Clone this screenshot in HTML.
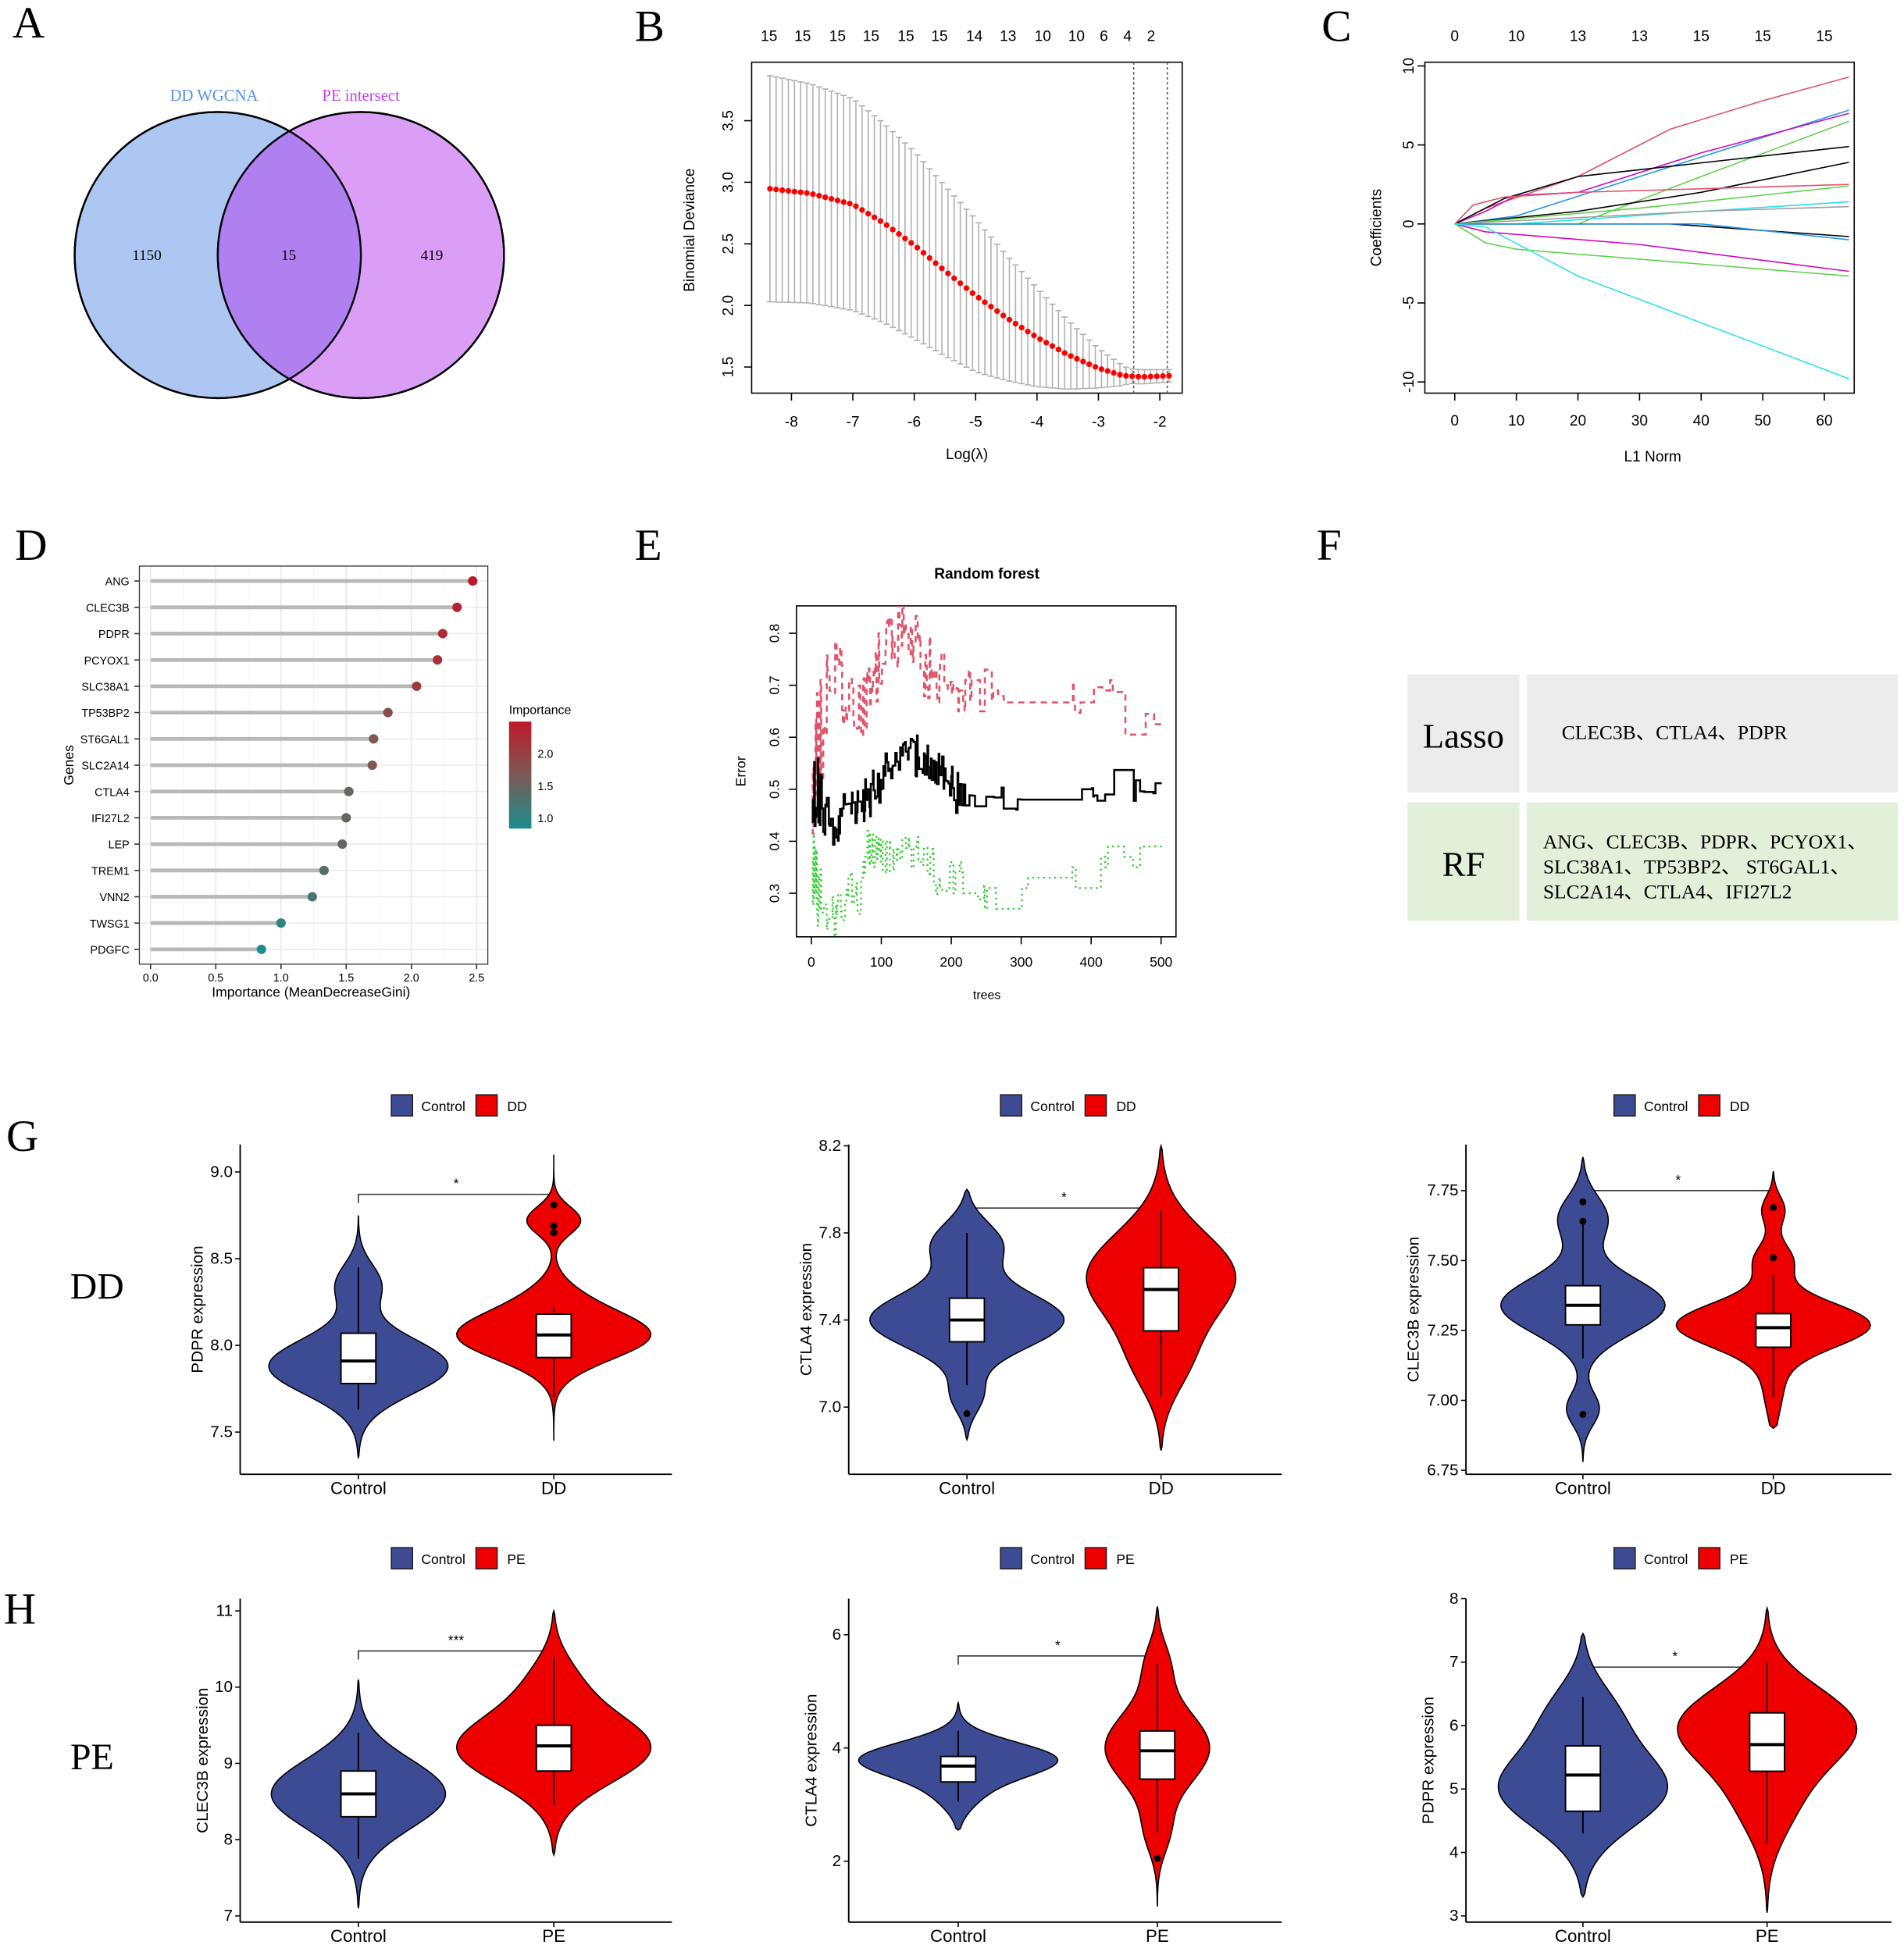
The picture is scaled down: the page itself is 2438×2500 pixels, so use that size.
<!DOCTYPE html>
<html><head><meta charset="utf-8"><style>
html,body{margin:0;padding:0;background:#fff;}
svg{display:block;}
text{font-family:"Liberation Sans",sans-serif;}
.serif{font-family:"Liberation Serif",serif;}
</style></head><body>
<svg id="s" xmlns="http://www.w3.org/2000/svg" width="2438" height="2500" viewBox="0 0 1530 1569" preserveAspectRatio="none">
<rect width="1530" height="1569" fill="#fff"/>
<defs>
<clipPath id="cl"><circle cx="175" cy="205" r="115"/></clipPath>
<clipPath id="cpE"><rect x="640" y="487" width="305" height="266"/></clipPath>
<linearGradient id="gr" x1="0" y1="0" x2="0" y2="1"><stop offset="0" stop-color="#c0182b"/><stop offset="0.5" stop-color="#7a5a55"/><stop offset="1" stop-color="#1a8e8e"/></linearGradient>
</defs>
<g class="serif" font-size="36">
<text x="10" y="30" class="serif">A</text><text x="510" y="33" class="serif">B</text><text x="1062" y="33" class="serif">C</text>
<text x="12" y="450" class="serif">D</text><text x="510" y="450" class="serif">E</text><text x="1058" y="450" class="serif">F</text>
<text x="5" y="925" class="serif">G</text><text x="3" y="1305" class="serif">H</text>
</g>
<circle cx="175" cy="205" r="115" fill="#aec7f2" stroke="#000" stroke-width="1.5"/>
<circle cx="290" cy="205" r="115" fill="#da9ef6" stroke="#000" stroke-width="1.5"/>
<circle cx="290" cy="205" r="115" fill="#b07ff0" clip-path="url(#cl)"/>
<circle cx="175" cy="205" r="115" fill="none" stroke="#000" stroke-width="1.5"/>
<circle cx="290" cy="205" r="115" fill="none" stroke="#000" stroke-width="1.5"/>
<text x="172" y="81" class="serif" font-size="13" fill="#5b8ff0" text-anchor="middle">DD WGCNA</text>
<text x="290" y="81" class="serif" font-size="13" fill="#c040f0" text-anchor="middle">PE intersect</text>
<g class="serif" font-size="12" text-anchor="middle"><text x="118" y="209" class="serif">1150</text><text x="232" y="209" class="serif">15</text><text x="347" y="209" class="serif">419</text></g>
<g id="dyn"></g>
<rect x="1131" y="542" width="90" height="95" fill="#ececec"/><rect x="1227" y="542" width="298" height="95" fill="#ececec"/>
<rect x="1131" y="645" width="90" height="95" fill="#e2efd9"/><rect x="1227" y="645" width="298" height="95" fill="#e2efd9"/>
<text x="1176" y="601" class="serif" font-size="28" text-anchor="middle">Lasso</text>
<text x="1176" y="704" class="serif" font-size="28" text-anchor="middle">RF</text>
<text x="1255" y="594" class="serif" font-size="16">CLEC3B、CTLA4、PDPR</text>
<text x="1240" y="682" class="serif" font-size="16">ANG、CLEC3B、PDPR、PCYOX1、</text>
<text x="1240" y="702" class="serif" font-size="16">SLC38A1、TP53BP2、 ST6GAL1、</text>
<text x="1240" y="722" class="serif" font-size="16">SLC2A14、CTLA4、IFI27L2</text>
<text x="78" y="1044" class="serif" font-size="30" text-anchor="middle">DD</text>
<text x="74" y="1422" class="serif" font-size="30" text-anchor="middle">PE</text>
</svg>
<script>
var g=document.getElementById('dyn'),h='';
function T(x,y,t,o){o=o||{};h+='<text x="'+x+'" y="'+y+'" font-size="'+(o.s||12)+'"'+(o.a?' text-anchor="'+o.a+'"':'')+(o.r?' transform="rotate(-90 '+x+' '+y+')"':'')+(o.w?' font-weight="bold"':'')+(o.f?' fill="'+o.f+'"':'')+'>'+t+'</text>';}
function L(x1,y1,x2,y2,c,w,d){h+='<line x1="'+x1+'" y1="'+y1+'" x2="'+x2+'" y2="'+y2+'" stroke="'+(c||'#000')+'" stroke-width="'+(w||1)+'"'+(d?' stroke-dasharray="'+d+'"':'')+'/>';}
function P(d,c,w,f,ex){h+='<path d="'+d+'" stroke="'+(c||'none')+'" stroke-width="'+(w||1)+'" fill="'+(f||'none')+'" '+(ex||'')+'/>';}
h+='<rect x="604" y="50" width="346" height="266" fill="none" stroke="#000"/>';
var bx=function(l){return 636+(l+8)*49.33},by=function(v){return 295-(v-1.5)*99};
for(var l=-8;l<=-2;l++){L(bx(l),316,bx(l),322);T(bx(l),343,''+l,{a:'middle'});}
[1.5,2,2.5,3,3.5].forEach(function(v){L(598,by(v),604,by(v));T(589,by(v),v.toFixed(1),{a:'middle',r:1});});
T(777,369,'Log(λ)',{a:'middle'});T(558,185,'Binomial Deviance',{a:'middle',r:1});
var tl=[[618,15],[645,15],[673,15],[700,15],[728,15],[755,15],[783,14],[810,13],[838,10],[865,10],[887,6],[906,4],[925,2]];
tl.forEach(function(a){T(a[0],33,a[1],{a:'middle'});});
function interp(pts,x){if(x<=pts[0][0])return pts[0][1];for(var i=0;i<pts.length-1;i++){if(x<=pts[i+1][0]){var t=(x-pts[i][0])/(pts[i+1][0]-pts[i][0]);return pts[i][1]+t*(pts[i+1][1]-pts[i][1]);}}return pts[pts.length-1][1];}
var mp=[[-8.4,2.95],[-7.7,2.91],[-7,2.82],[-6.5,2.67],[-6,2.49],[-5.5,2.28],[-5,2.08],[-4.5,1.9],[-4,1.74],[-3.5,1.6],[-3,1.49],[-2.6,1.43],[-2.3,1.42],[-1.8,1.43]];
var sp=[[-8.4,0.92],[-7,0.86],[-6,0.76],[-5,0.62],[-4,0.4],[-3,0.16],[-2.5,0.06],[-1.8,0.05]];
var dots='';
for(var i=0;i<66;i++){var l=-8.35+i*(6.5/65),m=interp(mp,l),s=interp(sp,l),x=bx(l);
L(x,by(m+s),x,by(m-s),'#b0b0b0',1);L(x-2.5,by(m+s),x+2.5,by(m+s),'#b0b0b0',1);L(x-2.5,by(m-s),x+2.5,by(m-s),'#b0b0b0',1);
dots+='<circle cx="'+x+'" cy="'+by(m)+'" r="2.3" fill="#f00"/>';}
h+=dots;L(911,50,911,316,'#555',1,'2,2');L(938,50,938,316,'#555',1,'2,2');
h+='<rect x="1145" y="50" width="345" height="266" fill="none" stroke="#000"/>';
var cx=function(v){return 1169+v*4.95},cy=function(v){return 180-v*12.7};
[0,10,20,30,40,50,60].forEach(function(v){L(cx(v),316,cx(v),322);T(cx(v),342,v,{a:'middle'});});
[0,10,13,13,15,15,15].forEach(function(v,i){T(cx(i*10),33,v,{a:'middle'});});
[-10,-5,0,5,10].forEach(function(v){L(1139,cy(v),1145,cy(v));T(1139-3,cy(v),v,{a:'middle',r:1});});
T(1328,371,'L1 Norm',{a:'middle'});T(1110,183,'Coefficients',{a:'middle',r:1});
var cl=[['#df536b',[[0,0],[5,1],[20,3],[35,6],[50,7.8],[64,9.3]]],['#2297e6',[[0,0],[10,0.5],[30,3],[64,7.2]]],['#cd0bbc',[[0,0],[5,0.8],[10,1.8],[20,2],[40,4.5],[64,7]]],['#61d04f',[[0,0],[20,0],[40,3],[64,6.5]]],['#000',[[0,0],[8,1.6],[20,3],[64,4.9]]],['#000',[[0,0],[20,0.8],[40,2],[64,3.9]]],['#61d04f',[[0,0],[30,1],[64,2.4]]],['#df536b',[[0,0],[3,1.2],[8,1.7],[20,2],[64,2.5]]],['#28e2e5',[[0,0],[10,0],[40,0.8],[64,1.4]]],['#9e9e9e',[[0,0],[40,0.8],[64,1.1]]],['#000',[[0,0],[35,0],[64,-0.8]]],['#2297e6',[[0,0],[40,0],[64,-1]]],['#cd0bbc',[[0,0],[5,-0.5],[30,-1.3],[64,-3]]],['#61d04f',[[0,0],[5,-1.2],[10,-1.6],[64,-3.3]]],['#28e2e5',[[0,0],[5,-0.2],[20,-3.3],[64,-9.8]]]];
cl.forEach(function(c){P('M'+c[1].map(function(p){return cx(p[0])+','+cy(p[1])}).join(' L'),c[0],1);});
var dX=function(v){return 121+v*104.8};
for(var v=0;v<=2.5;v+=0.25){L(dX(v),455,dX(v),775,v%0.5==0?'#e8e8e8':'#f3f3f3',v%0.5==0?1:0.6);}
var genes=[['ANG',2.47],['CLEC3B',2.35],['PDPR',2.24],['PCYOX1',2.2],['SLC38A1',2.04],['TP53BP2',1.82],['ST6GAL1',1.71],['SLC2A14',1.7],['CTLA4',1.52],['IFI27L2',1.5],['LEP',1.47],['TREM1',1.33],['VNN2',1.24],['TWSG1',1.0],['PDGFC',0.85]];
function col(v){var t=Math.max(0,Math.min(1,(v-0.85)/(2.47-0.85)));var a=[26,142,142],m=[122,90,85],b=[192,24,43];var c=t<0.5?a.map(function(x,i){return x+(m[i]-x)*t*2}):m.map(function(x,i){return x+(b[i]-x)*(t-0.5)*2});return 'rgb('+c.map(Math.round).join(',')+')';}
genes.forEach(function(gn,i){var y=467+i*21.15;L(112,y,392,y,'#ececec',1);L(dX(0),y,dX(gn[1]),y,'#b8b8b8',3);h+='<circle cx="'+dX(gn[1])+'" cy="'+y+'" r="3.8" fill="'+col(gn[1])+'"/>';T(104,y+3.5,gn[0],{a:'end',s:9});L(108,y,112,y,'#333');});
h+='<rect x="112" y="455" width="280" height="320" fill="none" stroke="#333" stroke-width="0.8"/>';
[0,0.5,1,1.5,2,2.5].forEach(function(v){L(dX(v),775,dX(v),779,'#333');T(dX(v),789,v.toFixed(1),{a:'middle',s:9});});
T(250,801,'Importance (MeanDecreaseGini)',{a:'middle',s:11});T(59,615,'Genes',{a:'middle',r:1,s:11});
T(409,574,'Importance',{s:10});h+='<rect x="409" y="580" width="18" height="86" fill="url(#gr)"/>';
[[2.0,606],[1.5,632],[1.0,658]].forEach(function(a){T(432,a[1]+3,a[0].toFixed(1),{s:9});});
h+='<rect x="640" y="487" width="305" height="266" fill="none" stroke="#000"/>';
var eX=function(t){return 652+t*0.562},eY=function(v){return 718-(v-0.3)*418};
[0,100,200,300,400,500].forEach(function(t){L(eX(t),753,eX(t),759);T(eX(t),777,t,{a:'middle',s:11});});
[0.3,0.4,0.5,0.6,0.7,0.8].forEach(function(v){L(634,eY(v),640,eY(v));T(626,eY(v),v.toFixed(1),{a:'middle',r:1,s:11});});
T(793,465,'Random forest',{a:'middle',w:1,s:12});T(793,803,'trees',{a:'middle',s:10});T(599,620,'Error',{a:'middle',r:1,s:11});
var seed=11;function rnd(){seed=(seed*16807)%2147483647;return seed/2147483647;}
function step(base,amp,col,w,dash,quiet){var v=interp(base,1),d='';for(var t=1;t<=500;t++){var b=interp(base,t);var p=t<15?1:(t<220?0.55:0.12);var q=quiet.some(function(r){return t>=r[0]&&t<=r[1];});if(q){v=b;}else if(rnd()<p){var a=t<15?amp*2.5:(t<220?amp:amp*0.6);v=b+Math.round((rnd()-0.5)*2*a/0.02)*0.02;}var y=eY(v);d+=(t==1?'M':' L')+eX(t)+','+y+' L'+eX(t+1)+','+y;}P(d,col,w,'none',dash?'stroke-dasharray="'+dash+'"':'');}
h+='<g clip-path="url(#cpE)">';
step([[1,0.55],[15,0.62],[25,0.73],[40,0.72],[50,0.65],[70,0.66],[85,0.7],[110,0.79],[140,0.8],[160,0.74],[190,0.72],[210,0.69],[260,0.69],[275,0.667],[400,0.667],[410,0.69],[430,0.69],[445,0.645],[500,0.645]],0.065,'#df536b',1.6,'5,4',[[275,370],[385,400]]);
step([[1,0.34],[15,0.3],[22,0.25],[40,0.26],[55,0.3],[70,0.3],[80,0.4],[100,0.38],[150,0.39],[170,0.35],[190,0.32],[230,0.32],[250,0.29],[290,0.29],[300,0.33],[390,0.33],[400,0.37],[500,0.37]],0.04,'#2fcc2f',1.4,'1.5,3',[[310,360]]);
step([[1,0.5],[20,0.45],[35,0.4],[45,0.47],[80,0.48],[100,0.52],[140,0.58],[160,0.55],[190,0.52],[210,0.49],[300,0.48],[400,0.48],[410,0.5],[430,0.52],[450,0.5],[500,0.49]],0.035,'#000',1.6,'',[[300,370]]);
h+='</g>';
var BL='#3d4b94',RD='#ee0000';
function violin(xc,ys,comps,lo,hi,maxw,box,out,fill){var n=80,mx=0,ds=[];for(var i=0;i<=n;i++){var v=lo+(hi-lo)*i/n,d=0;comps.forEach(function(c){d+=c[0]*Math.exp(-Math.pow(v-c[1],2)/(2*c[2]*c[2]));});ds.push([v,d]);if(d>mx)mx=d;}
ds[0][1]=0;ds[n][1]=0;
var r='',l='';ds.forEach(function(p,i){var w=p[1]/mx*maxw;r+=(i?' L':'M')+(xc+w)+','+ys(p[0]);});for(var i=ds.length-1;i>=0;i--){var w=ds[i][1]/mx*maxw;l+=' L'+(xc-w)+','+ys(ds[i][0]);}
P(r+l+'Z','#000',1,fill);L(xc,ys(box[0]),xc,ys(box[4]),'#000',1.2);h+='<rect x="'+(xc-14)+'" y="'+ys(box[3])+'" width="28" height="'+(ys(box[1])-ys(box[3]))+'" fill="#fff" stroke="#000" stroke-width="1.2"/>';L(xc-14,ys(box[2]),xc+14,ys(box[2]),'#000',2.5);(out||[]).forEach(function(o){h+='<circle cx="'+xc+'" cy="'+ys(o)+'" r="2.8" fill="#000"/>';});}
function panel(ax,ax2,yT,yB,x1,x2,ticks,ys,lab,grp,ly,brY,star,fmt){L(ax,yT,ax,yB,'#000',1.2);L(ax,yB,ax2,yB,'#000',1.2);ticks.forEach(function(v){L(ax-4,ys(v),ax,ys(v));T(ax-6,ys(v)+4,v.toFixed(fmt),{a:'end',s:13});});
[[x1,'Control'],[x2,grp]].forEach(function(a){L(a[0],yB,a[0],yB+4);T(a[0],yB+16,a[1],{a:'middle',s:14});});
var off=fmt==2?-38:(fmt==1?-30:-26);
T(ax+off,(yT+yB)/2,lab,{a:'middle',r:1,s:13});
var lx=(ax+ax2)/2-52;h+='<rect x="'+lx+'" y="'+(ly-9)+'" width="17" height="17" fill="'+BL+'" stroke="#222"/><rect x="'+(lx+68)+'" y="'+(ly-9)+'" width="17" height="17" fill="'+RD+'" stroke="#222"/>';T(lx+24,ly+4,'Control',{s:11});T(lx+93,ly+4,grp,{s:11});
P('M'+x1+','+(brY+7)+' L'+x1+','+brY+' L'+x2+','+brY+' L'+x2+','+(brY+7),'#333',1);T((x1+x2)/2,brY-5,star,{a:'middle',s:11});}
var y1=function(v){return 942-(v-9)*139.4};
panel(193,540,920,1185,288,445,[7.5,8,8.5,9],y1,'PDPR expression','DD',889,960,'*',1);
violin(288,y1,[[1,7.88,0.16],[0.25,8.35,0.12]],7.35,8.75,72,[7.63,7.78,7.91,8.07,8.45],[],BL);
violin(445,y1,[[1,8.06,0.14],[0.28,8.72,0.08],[0.1,8.3,0.1]],7.45,9.1,78,[7.7,7.93,8.06,8.18,8.22],[8.81,8.69,8.65],RD);
var y2=function(v){return 1131-(v-7)*175};
panel(682,1030,920,1185,777,933,[7.0,7.4,7.8,8.2],y2,'CTLA4 expression','DD',889,971,'*',1);
violin(777,y2,[[1,7.4,0.13],[0.35,7.75,0.1],[0.15,7.05,0.08]],6.85,8.0,78,[7.1,7.3,7.4,7.5,7.8],[6.97],BL);
violin(933,y2,[[1,7.6,0.2],[0.3,7.2,0.15]],6.8,8.2,60,[7.05,7.35,7.54,7.64,7.9],[],RD);
var y3=function(v){return 957-(v-7.75)*224.8};
panel(1178,1520,920,1185,1272,1425,[6.75,7.0,7.25,7.5,7.75],y3,'CLEC3B expression','DD',889,957,'*',2);
violin(1272,y3,[[1,7.34,0.1],[0.3,7.65,0.08],[0.2,6.97,0.06]],6.78,7.87,66,[7.15,7.27,7.34,7.41,7.63],[7.71,7.64,6.95],BL);
violin(1425,y3,[[1,7.27,0.08],[0.2,7.5,0.06],[0.12,7.68,0.05],[0.1,7.05,0.1]],6.9,7.82,78,[7.01,7.19,7.26,7.31,7.45],[7.69,7.51],RD);
var h1=function(v){return 1540-(v-7)*61.3};
panel(193,540,1285,1545,288,445,[7,8,9,10,11],h1,'CLEC3B expression','PE',1253,1327,'***',0);
violin(288,h1,[[1,8.6,0.45]],7.1,10.1,70,[7.75,8.3,8.6,8.9,9.4],[],BL);
violin(445,h1,[[1,9.2,0.45],[0.18,10.1,0.35]],7.8,11,78,[8.45,8.9,9.23,9.5,10.4],[],RD);
var h2=function(v){return 1496-(v-2)*45.5};
panel(682,1030,1285,1545,770,930,[2,4,6],h2,'CTLA4 expression','PE',1253,1331,'*',0);
violin(770,h2,[[1,3.8,0.3],[0.2,3.2,0.3]],2.55,4.8,80,[3.05,3.4,3.68,3.85,4.3],[],BL);
violin(930,h2,[[1,4.0,0.65],[0.2,2.5,0.4],[0.2,5.5,0.4]],1.2,6.5,42,[2.5,3.45,3.95,4.3,5.5],[2.05],RD);
var h3=function(v){return 1540-(v-3)*51};
panel(1178,1520,1285,1545,1272,1420,[3,4,5,6,7,8],h3,'PDPR expression','PE',1253,1340,'*',0);
violin(1272,h3,[[1,5.0,0.6],[0.35,6.2,0.5]],3.3,7.45,68,[4.3,4.65,5.22,5.68,6.45],[],BL);
violin(1420,h3,[[1,6.0,0.6],[0.3,4.8,0.6]],3.05,7.85,72,[4.15,5.28,5.7,6.2,7.0],[],RD);
g.innerHTML=h;
</script>
</body></html>
